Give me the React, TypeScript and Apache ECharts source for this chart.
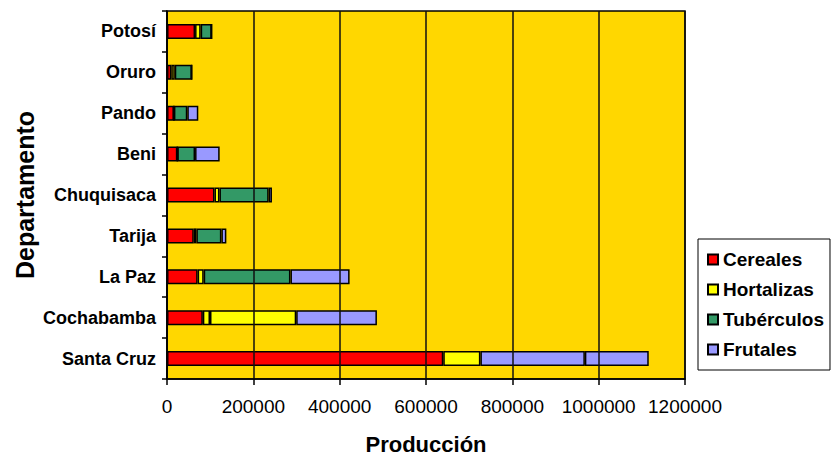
import React, { useEffect, useRef } from "react";
import * as echarts from "echarts";

const departamentos = ["Potosí", "Oruro", "Pando", "Beni", "Chuquisaca", "Tarija", "La Paz", "Cochabamba", "Santa Cruz"];
const cereales = [65000, 10000, 16000, 24000, 110000, 62000, 71000, 83000, 640000];
const hortalizas = [13000, 8000, 0, 0, 11500, 6000, 14000, 16600, 86000];
const tuberculos = [25500, 39500, 31000, 41000, 114000, 58000, 201000, 199700, 242000];
const frutales = [0, 0, 25500, 57000, 7700, 11500, 137000, 187000, 148000];
const xTicks = [0, 200000, 400000, 600000, 800000, 1000000, 1200000];

const FONT = "Liberation Sans, Arial, sans-serif";
const RED = "#FF0000";
const YELLOW = "#FFFF00";
const GREEN = "#339966";
const LAVENDER = "#9999FF";

export default function App() {
  const ref = useRef<HTMLDivElement>(null);
  useEffect(() => {
    if (!ref.current) return;
    const chart = echarts.init(ref.current, null, { renderer: "svg" });
    const barStyle = { borderColor: "#000", borderWidth: 1.5 };
    const mk = (name: string, data: number[], color: string, overrides?: Record<string, string>) => ({
      name,
      type: "bar",
      stack: "total",
      barWidth: 15,
      z: 2,
      itemStyle: { color, ...barStyle },
      data: data.map((v, i) => {
        const c = overrides && overrides[departamentos[i]];
        return c ? { value: v, itemStyle: { color: c } } : v;
      }),
    });
    chart.setOption({
      animation: false,
      backgroundColor: "#ffffff",
      textStyle: { fontFamily: FONT },
      grid: {
        left: 167,
        right: 153,
        top: 11,
        bottom: 76,
        show: true,
        backgroundColor: "#FFD700",
        borderColor: "#000",
        borderWidth: 1.5,
        containLabel: false,
        outerBoundsMode: "none",
      },
      legend: {
        orient: "vertical",
        left: 698,
        top: 239,
        itemWidth: 10,
        itemHeight: 10,
        itemGap: 11,
        padding: [11, 6, 11, 9],
        borderColor: "#000",
        borderWidth: 1,
        backgroundColor: "#fff",
        icon: "rect",
        textStyle: { fontSize: 19, fontWeight: "bold", color: "#000", fontFamily: FONT },
        data: ["Cereales", "Hortalizas", "Tubérculos", "Frutales"],
      },
      xAxis: {
        type: "value",
        min: xTicks[0],
        max: xTicks[xTicks.length - 1],
        interval: xTicks[1] - xTicks[0],
        z: 10,
        name: "Producción",
        nameLocation: "middle",
        nameMoveOverlap: false,
        nameGap: 54,
        nameTextStyle: { fontSize: 22, lineHeight: 22, fontWeight: "bold", color: "#000", fontFamily: FONT },
        axisLine: { show: true, lineStyle: { color: "#000", width: 1.5 } },
        axisTick: { show: true, length: 6, lineStyle: { color: "#000", width: 1.5 } },
        axisLabel: { fontSize: 19, color: "#000", margin: 18, fontFamily: FONT, formatter: (v: number) => String(v) },
        splitLine: { show: true, lineStyle: { color: "#111", width: 1.5 } },
      },
      yAxis: {
        type: "category",
        inverse: true,
        data: departamentos,
        z: 10,
        name: "Departamento",
        nameLocation: "middle",
        nameMoveOverlap: false,
        nameGap: 130,
        nameRotate: 90,
        nameTextStyle: { fontSize: 25, fontWeight: "bold", color: "#000", fontFamily: FONT },
        axisLine: { show: true, lineStyle: { color: "#000", width: 1.5 } },
        axisTick: { show: true, length: 5, lineStyle: { color: "#000", width: 1.5 } },
        axisLabel: { fontSize: 18, fontWeight: "bold", color: "#000", margin: 11, fontFamily: FONT },
      },
      series: [
        mk("Cereales", cereales, RED),
        mk("Hortalizas", hortalizas, YELLOW),
        mk("Tubérculos", tuberculos, GREEN, { Cochabamba: YELLOW, "Santa Cruz": LAVENDER }),
        mk("Frutales", frutales, LAVENDER),
      ],
    });
    return () => chart.dispose();
  }, []);
  return <div ref={ref} style={{ position: "fixed", left: 0, top: 0, width: 838, height: 455 }} />;
}
